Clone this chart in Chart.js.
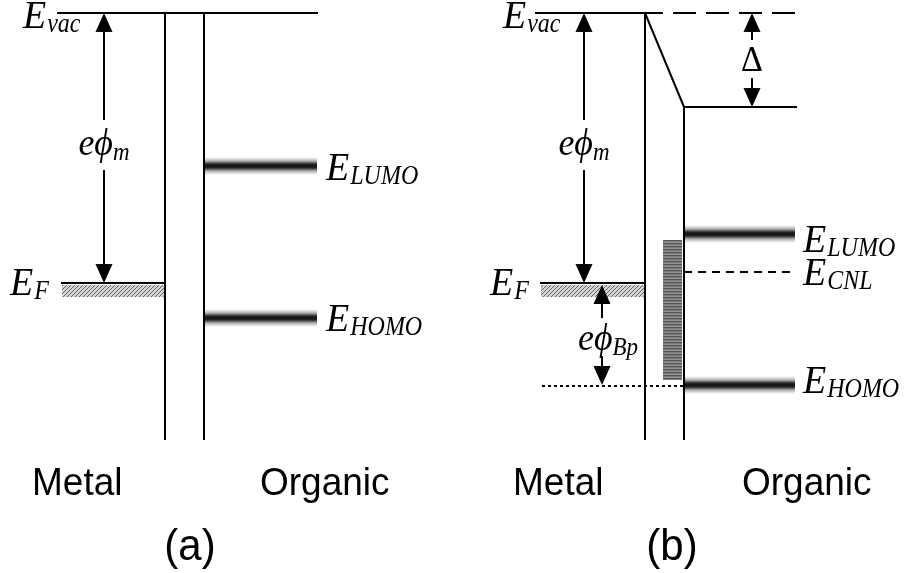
<!DOCTYPE html>
<html>
<head>
<meta charset="utf-8">
<script src="https://cdn.jsdelivr.net/npm/chart.js@4.4.1/dist/chart.umd.min.js"></script>
<style>
html, body { margin: 0; padding: 0; background: #fff; }
#wrap { width: 910px; height: 573px; }
</style>
</head>
<body>
<div id="wrap"><canvas id="chart"></canvas></div>
<script>
// Diagram units: x runs across the figure, y is energy drawn downward (0 = top).
const vacLevel = 13;
const bottomLevel = 440;

// panel (a): metal start, interface left, interface right, organic end
const edgesA = [57, 165, 204, 318];
const levelsA = [166, 283, 318];            // E_LUMO, E_F, E_HOMO

// panel (b)
const edgesB = [535, 645, 684, 797];
const levelsB = [107, 234, 272, 283, 386];  // shifted E_vac, E_LUMO, E_CNL, E_F, E_HOMO
const interfaceStatesB = [663, 682, 240, 380]; // x0, x1, top, bottom

// arrows: x, tip top, tip bottom, label gap top, label gap bottom
const arrowPhiA = [104, 13, 283, 120, 170];
const arrowPhiB = [584, 13, 283, 120, 170];
const arrowDelta = [752, 13, 107, 40, 78];
const arrowBarrier = [602, 285, 385, 318, 356];

// text labels: main, subscript, x, baseline
const levelLabels = [
  ['E', 'vac', 23, 28],
  ['E', 'F', 10, 295],
  ['E', 'LUMO', 326, 180],
  ['E', 'HOMO', 326, 331],
  ['E', 'vac', 503, 28],
  ['E', 'F', 490, 295],
  ['E', 'LUMO', 803, 252],
  ['E', 'CNL', 803, 285],
  ['E', 'HOMO', 803, 393]
];
const phiLabels = [
  ['eϕ', 'm', 104, 155],
  ['eϕ', 'm', 584, 155],
  ['eϕ', 'Bp', 608, 350]
];
const sideLabels = [
  ['Metal', 32, 495], ['Organic', 260, 495],
  ['Metal', 513, 495], ['Organic', 742, 495]
];
const panelLabels = [['(a)', 190, 560], ['(b)', 672, 560]];

function seg(x1, y1, x2, y2, dash) {
  return {
    data: [{ x: x1, y: y1 }, { x: x2, y: y2 }],
    borderColor: '#000',
    borderWidth: 2,
    borderDash: dash || [],
    showLine: true,
    pointRadius: 0,
    fill: false
  };
}

const datasets = [];
// (a)
datasets.push(seg(edgesA[0], vacLevel, edgesA[3], vacLevel));
datasets.push(seg(edgesA[1], vacLevel, edgesA[1], bottomLevel));
datasets.push(seg(edgesA[2], vacLevel, edgesA[2], bottomLevel));
datasets.push(seg(61, levelsA[1], edgesA[1], levelsA[1]));
// (b)
datasets.push(seg(edgesB[0], vacLevel, 640, vacLevel));
datasets.push(seg(640, vacLevel, 795, vacLevel, [23, 10]));
datasets.push(seg(edgesB[1], vacLevel, edgesB[2], levelsB[0]));
datasets.push(seg(edgesB[2], levelsB[0], edgesB[3], levelsB[0]));
datasets.push(seg(edgesB[1], vacLevel, edgesB[1], bottomLevel));
datasets.push(seg(edgesB[2], levelsB[0], edgesB[2], bottomLevel));
datasets.push(seg(540, levelsB[3], edgesB[1], levelsB[3]));
datasets.push(seg(edgesB[2], levelsB[2], 795, levelsB[2], [8, 6]));
datasets.push(seg(542, levelsB[4], edgesB[2], levelsB[4], [3, 3]));
// arrow shafts, broken around their labels
[arrowPhiA, arrowPhiB, arrowDelta, arrowBarrier].forEach(a => {
  datasets.push(seg(a[0], a[1] + 15, a[0], a[3]));
  datasets.push(seg(a[0], a[4], a[0], a[2] - 15));
});

const bandBars = [
  [edgesA[2], 317, levelsA[0]],
  [edgesA[2], 317, levelsA[2]],
  [edgesB[2], 795, levelsB[1]],
  [edgesB[2], 795, levelsB[4] - 1]
];
const hatchAreas = [[62, edgesA[1], 285, 297], [541, edgesB[1], 285, 297]];

function makePattern(ctx, kind) {
  const c = document.createElement('canvas');
  const g = c.getContext('2d');
  if (kind === 'diag') {
    c.width = 4; c.height = 4;
    g.fillStyle = '#d4d4d4'; g.fillRect(0, 0, 4, 4);
    g.strokeStyle = '#666'; g.lineWidth = 1;
    g.beginPath(); g.moveTo(0, 4); g.lineTo(4, 0); g.moveTo(-1, 1); g.lineTo(1, -1); g.moveTo(3, 5); g.lineTo(5, 3); g.stroke();
  } else {
    c.width = 2; c.height = 3;
    g.fillStyle = '#949494'; g.fillRect(0, 0, 2, 3);
    g.fillStyle = '#555'; g.fillRect(0, 0, 2, 1);
    g.fillStyle = '#7a7a7a'; g.fillRect(0, 1, 2, 1);
  }
  return ctx.createPattern(c, 'repeat');
}

function stretchText(ctx, text, x, y, sy) {
  ctx.save();
  ctx.translate(x, y);
  ctx.scale(1, sy);
  ctx.fillText(text, 0, 0);
  ctx.restore();
}

const diagramPlugin = {
  id: 'diagram',
  beforeDatasetsDraw(chart) {
    const ctx = chart.ctx, xs = chart.scales.x, ys = chart.scales.y;
    ctx.save();
    ctx.fillStyle = makePattern(ctx, 'diag');
    hatchAreas.forEach(h => {
      const x0 = xs.getPixelForValue(h[0]), x1 = xs.getPixelForValue(h[1]);
      const y0 = ys.getPixelForValue(h[2]), y1 = ys.getPixelForValue(h[3]);
      ctx.fillRect(x0, y0, x1 - x0, y1 - y0);
    });
    const s = interfaceStatesB;
    ctx.fillStyle = makePattern(ctx, 'horiz');
    const sx0 = xs.getPixelForValue(s[0]), sx1 = xs.getPixelForValue(s[1]);
    const sy0 = ys.getPixelForValue(s[2]), sy1 = ys.getPixelForValue(s[3]);
    ctx.fillRect(sx0, sy0, sx1 - sx0, sy1 - sy0);
    bandBars.forEach(b => {
      const x0 = xs.getPixelForValue(b[0]) + 1, x1 = xs.getPixelForValue(b[1]);
      const yc = ys.getPixelForValue(b[2]);
      const grad = ctx.createLinearGradient(0, yc - 9, 0, yc + 9);
      grad.addColorStop(0, 'rgba(130,130,130,0)');
      grad.addColorStop(0.2, 'rgba(110,110,110,0.5)');
      grad.addColorStop(0.38, 'rgba(45,45,45,1)');
      grad.addColorStop(0.5, 'rgba(15,15,15,1)');
      grad.addColorStop(0.62, 'rgba(45,45,45,1)');
      grad.addColorStop(0.8, 'rgba(110,110,110,0.5)');
      grad.addColorStop(1, 'rgba(130,130,130,0)');
      ctx.fillStyle = grad;
      ctx.fillRect(x0, yc - 9, x1 - x0, 18);
    });
    ctx.restore();
  },
  afterDatasetsDraw(chart) {
    const ctx = chart.ctx, xs = chart.scales.x, ys = chart.scales.y;
    ctx.save();
    ctx.fillStyle = '#000';
    const head = (x, tip, dir) => {
      const px = xs.getPixelForValue(x), py = ys.getPixelForValue(tip);
      ctx.beginPath();
      ctx.moveTo(px, py);
      ctx.lineTo(px - 8.5, py + dir * 19);
      ctx.lineTo(px + 8.5, py + dir * 19);
      ctx.closePath();
      ctx.fill();
    };
    [arrowPhiA, arrowPhiB, arrowDelta, arrowBarrier].forEach(a => {
      head(a[0], a[1], 1);
      head(a[0], a[2], -1);
    });

    ctx.textBaseline = 'alphabetic';
    ctx.textAlign = 'left';
    const serif = '"Liberation Serif", "DejaVu Serif", serif';
    levelLabels.forEach(l => {
      const px = xs.getPixelForValue(l[2]), py = ys.getPixelForValue(l[3]);
      ctx.font = 'italic 38px ' + serif;
      stretchText(ctx, l[0], px, py, 1.08);
      const w = ctx.measureText(l[0]).width;
      ctx.font = 'italic 24px ' + serif;
      stretchText(ctx, l[1], px + w + 1, py + 4, 1.12);
    });
    phiLabels.forEach(l => {
      ctx.font = 'italic 36px ' + serif;
      const w1 = ctx.measureText(l[0]).width;
      ctx.font = 'italic 23px ' + serif;
      const w2 = ctx.measureText(l[1]).width;
      const px = xs.getPixelForValue(l[2]) - (w1 + w2) / 2, py = ys.getPixelForValue(l[3]);
      ctx.font = 'italic 36px ' + serif;
      stretchText(ctx, l[0], px, py, 1.08);
      ctx.font = 'italic 23px ' + serif;
      stretchText(ctx, l[1], px + w1, py + 5, 1.1);
    });
    ctx.font = '34px ' + serif;
    ctx.textAlign = 'center';
    stretchText(ctx, 'Δ', xs.getPixelForValue(arrowDelta[0]), ys.getPixelForValue(71), 1.05);

    ctx.textAlign = 'left';
    ctx.font = '37px "Liberation Sans", Arial, sans-serif';
    sideLabels.forEach(l => stretchText(ctx, l[0], xs.getPixelForValue(l[1]), ys.getPixelForValue(l[2]), 1.06));
    ctx.textAlign = 'center';
    ctx.font = '42px "Liberation Sans", Arial, sans-serif';
    panelLabels.forEach(l => stretchText(ctx, l[0], xs.getPixelForValue(l[1]), ys.getPixelForValue(l[2]), 1.04));
    ctx.restore();
  }
};

new Chart(document.getElementById('chart'), {
  type: 'scatter',
  data: { datasets: datasets },
  options: {
    animation: false,
    responsive: true,
    maintainAspectRatio: false,
    devicePixelRatio: 1,
    layout: { padding: 0 },
    plugins: { legend: { display: false }, tooltip: { enabled: false } },
    scales: {
      x: { type: 'linear', min: 0, max: 910, display: false },
      y: { type: 'linear', min: 0, max: 573, reverse: true, display: false }
    }
  },
  plugins: [diagramPlugin]
});
</script>
</body>
</html>
